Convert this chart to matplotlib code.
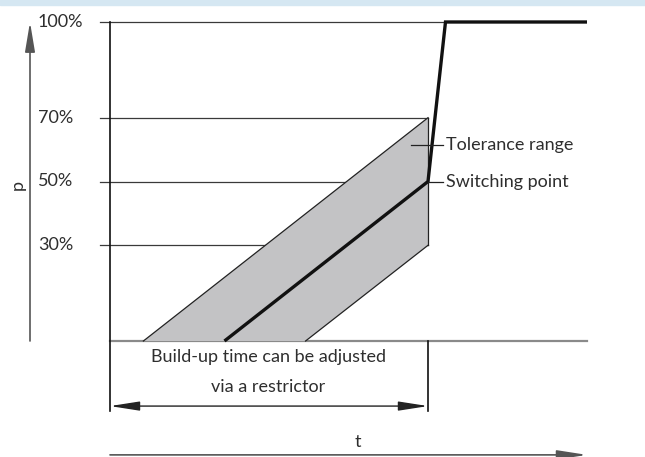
import matplotlib
matplotlib.use("Agg")
import matplotlib.pyplot as plt
from matplotlib.patches import Rectangle

# pressure levels (%) shown on the p axis
levels = [100, 70, 50, 30]
level_labels = ["100%", "70%", "50%", "30%"]

# time axis (arbitrary units), switching happens at t_switch
t_switch = 10.0
t_end = 15.0

# tolerance band corners: upper edge, lower edge
band_upper_t = [1.05, 10.0]
band_upper_p = [0, 70]
band_lower_t = [6.15, 10.0]
band_lower_p = [0, 30]

# nominal pressure curve
curve_t = [3.6, 10.0, 10.55, 15.0]
curve_p = [0, 50, 100, 100]

FONT = "Lato"
FS = 13

fig = plt.figure(figsize=(6.45, 4.57), dpi=100)
ax = fig.add_axes([0, 0, 1, 1])
# map pixels: t=0 -> x=110px, 1 unit = 31.8px ; p=0 -> y=341px, 10% = 31.9px
px_t, px_p = 31.8, 3.19
ax.set_xlim(-110 / px_t, (645 - 110) / px_t)
ax.set_ylim((341 - 457) / px_p, 341 / px_p)
ax.axis("off")

# light blue strip on top
fig.patches.append(Rectangle((0, 1 - 5 / 457), 1, 5 / 457, transform=fig.transFigure,
                             color="#d5e7f2", zorder=0))

# gridlines at the pressure levels
grid_left = -10 / px_t
for lv, lab in zip(levels, level_labels):
    right = curve_t[2] if lv == 100 else t_switch
    ax.plot([grid_left, right], [lv, lv], color="#3a3a3a", lw=0.9, zorder=1)
    ax.text(-72 / px_t, lv, lab, ha="left", va="center", fontsize=FS,
            family=FONT, color="#2e2e2e")

# zero line
ax.plot([0, t_end], [0, 0], color="#8a8a8a", lw=1.6, zorder=1)

# tolerance band
poly_t = band_upper_t + band_lower_t[::-1]
poly_p = band_upper_p + band_lower_p[::-1]
ax.fill(poly_t, poly_p, color="#c3c3c5", zorder=2, lw=0)
ax.plot(band_upper_t, band_upper_p, color="#222222", lw=0.9, zorder=3)
ax.plot(band_lower_t, band_lower_p, color="#222222", lw=0.9, zorder=3)
ax.plot([t_switch, t_switch], [band_lower_p[1], band_upper_p[1]], color="#222222",
        lw=0.9, zorder=3)

# pressure curve
ax.plot(curve_t, curve_p, color="#111111", lw=2.4, zorder=4, solid_capstyle="butt",
        solid_joinstyle="miter")

# vertical reference lines
ax.plot([0, 0], [100, -22], color="#111111", lw=1.2, zorder=3)
ax.plot([t_switch, t_switch], [0, -22], color="#111111", lw=1.2, zorder=3)

# dimension arrow
ax.annotate("", xy=(0, -20.4), xytext=(t_switch, -20.4),
            arrowprops=dict(arrowstyle="<|-|>,head_length=1.8,head_width=0.28",
                            color="#222222", lw=1.0, shrinkA=0, shrinkB=0,
                            mutation_scale=10))
ax.text(4.97, -5, "Build-up time can be adjusted", ha="center", va="center",
        fontsize=FS, family=FONT, color="#2e2e2e")
ax.text(4.97, -14.4, "via a restrictor", ha="center", va="center",
        fontsize=FS, family=FONT, color="#2e2e2e")

# leader labels
ax.plot([9.47, 10.47], [61.4, 61.4], color="#222222", lw=0.9, zorder=5)
ax.plot([t_switch, 10.47], [50, 50], color="#222222", lw=0.9, zorder=5)
ax.text(10.57, 61.4, "Tolerance range", ha="left", va="center", fontsize=FS,
        family=FONT, color="#2e2e2e")
ax.text(10.57, 50, "Switching point", ha="left", va="center", fontsize=FS,
        family=FONT, color="#2e2e2e")

# p axis arrow
ax.annotate("", xy=(-80 / px_t, 100), xytext=(-80 / px_t, 0),
            arrowprops=dict(arrowstyle="-|>,head_length=1.8,head_width=0.3",
                            color="#555555", lw=1.2, shrinkA=0, shrinkB=0,
                            mutation_scale=10))
ax.text(-92 / px_t, 49, "p", rotation=90, ha="center", va="center", fontsize=FS,
        family=FONT, color="#2e2e2e")

# t axis arrow
ax.annotate("", xy=(t_end, -35.7), xytext=(0, -35.7),
            arrowprops=dict(arrowstyle="-|>,head_length=1.8,head_width=0.28",
                            color="#555555", lw=1.2, shrinkA=0, shrinkB=0,
                            mutation_scale=10))
ax.text(7.8, -31.7, "t", ha="center", va="center", fontsize=FS, family=FONT,
        color="#2e2e2e")

fig.savefig("out.png", dpi=100)
